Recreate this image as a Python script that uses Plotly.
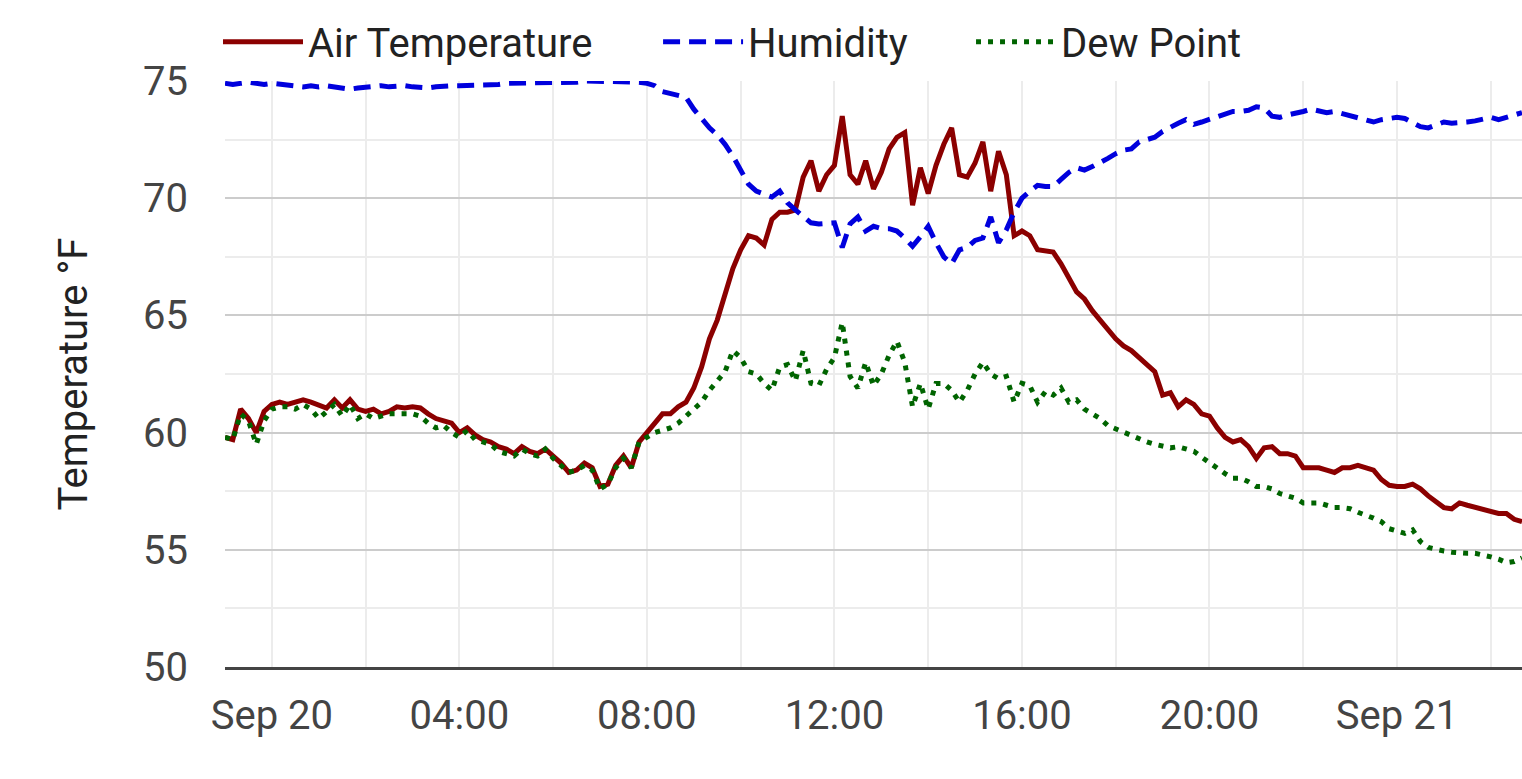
import pandas as pd
import plotly.graph_objects as go

# readings every 10 minutes, Sep 19 23:00 -> Sep 21 02:40 (one row per hour)
air_temp = [
    59.8, 59.7, 61.0, 60.6, 60.0, 60.9,
    61.2, 61.3, 61.2, 61.3, 61.4, 61.3,
    61.2, 61.05, 61.4, 61.05, 61.4, 61.0,
    60.9, 61.0, 60.8, 60.9, 61.1, 61.05,
    61.1, 61.05, 60.8, 60.6, 60.5, 60.4,
    60.0, 60.2, 59.9, 59.7, 59.6, 59.4,
    59.3, 59.1, 59.4, 59.2, 59.1, 59.3,
    59.0, 58.7, 58.3, 58.4, 58.7, 58.5,
    57.7, 57.8, 58.6, 59.0, 58.5, 59.6,
    60.0, 60.4, 60.8, 60.8, 61.1, 61.3,
    61.9, 62.8, 64.0, 64.8, 66.0, 67.0,
    67.8, 68.4, 68.3, 68.0, 69.1, 69.4,
    69.4, 69.5, 70.9, 71.6, 70.3, 71.0,
    71.4, 73.5, 71.0, 70.6, 71.6, 70.4,
    71.1, 72.1, 72.6, 72.8, 69.7, 71.3,
    70.2, 71.4, 72.3, 73.0, 71.0, 70.9,
    71.5, 72.4, 70.3, 72.0, 71.0, 68.4,
    68.6, 68.4, 67.8, 67.75, 67.7, 67.2,
    66.6, 66.0, 65.7, 65.2, 64.8, 64.4,
    64.0, 63.7, 63.5, 63.2, 62.9, 62.6,
    61.6, 61.7, 61.1, 61.4, 61.2, 60.8,
    60.7, 60.2, 59.8, 59.6, 59.7, 59.4,
    58.9, 59.35, 59.4, 59.1, 59.1, 59.0,
    58.5, 58.5, 58.5, 58.4, 58.3, 58.5,
    58.5, 58.6, 58.5, 58.4, 58.0, 57.75,
    57.7, 57.7, 57.8, 57.6, 57.3, 57.05,
    56.8, 56.75, 57.0, 56.9, 56.8, 56.7,
    56.6, 56.55, 56.55, 56.3, 56.2,
]

humidity = [
    74.9, 74.85, 74.9, 74.95, 74.9, 74.85,
    74.9, 74.85, 74.8, 74.75, 74.75, 74.8,
    74.75, 74.8, 74.75, 74.7, 74.65, 74.7,
    74.75, 74.8, 74.8, 74.75, 74.8, 74.8,
    74.75, 74.7, 74.7, 74.75, 74.8, 74.8,
    74.8, 74.8, 74.8, 74.85, 74.8, 74.85,
    74.9, 74.9, 74.95, 74.9, 74.95, 74.95,
    74.9, 74.9, 74.9, 74.95, 75.0, 75.0,
    75.0, 75.0, 75.0, 75.0, 75.0, 74.95,
    74.9, 74.8, 74.55, 74.45, 74.35, 74.3,
    73.8, 73.4, 73.0, 72.7, 72.3, 71.8,
    71.2, 70.6, 70.3, 70.2, 70.05, 70.3,
    69.8, 69.5, 69.2, 68.95, 68.9, 68.9,
    68.95, 67.9, 68.9, 69.2, 68.6, 68.8,
    68.7, 68.7, 68.6, 68.3, 67.95, 68.35,
    68.8, 68.1, 67.5, 67.2, 67.8, 67.9,
    68.2, 68.3, 69.2, 68.1, 68.65, 69.4,
    70.0, 70.3, 70.55, 70.5, 70.5, 70.8,
    71.1, 71.3, 71.2, 71.35, 71.5, 71.7,
    71.9, 72.05, 72.1, 72.4, 72.5, 72.6,
    72.85, 73.05, 73.2, 73.35, 73.15, 73.25,
    73.35, 73.5, 73.6, 73.7, 73.7, 73.75,
    73.9, 73.85, 73.5, 73.45, 73.55, 73.6,
    73.7, 73.8, 73.7, 73.65, 73.7, 73.6,
    73.55, 73.45, 73.3, 73.25, 73.35, 73.4,
    73.45, 73.4, 73.2, 73.05, 73.0, 73.15,
    73.25, 73.2, 73.2, 73.25, 73.3, 73.4,
    73.45, 73.35, 73.45, 73.5, 73.65,
]

dew_point = [
    59.8, 59.7, 60.8, 60.5, 59.5, 60.5,
    61.0, 61.1, 61.1, 61.0, 61.2, 61.0,
    60.6, 60.9, 61.2, 60.7, 61.2, 60.6,
    60.8, 60.6, 60.7, 60.8, 60.8, 60.8,
    60.8, 60.7, 60.4, 60.2, 60.3, 60.0,
    59.8, 60.1, 59.7, 59.6, 59.5, 59.2,
    59.1, 59.0, 59.3, 59.1, 59.0, 59.3,
    58.9, 58.6, 58.3, 58.4, 58.6, 58.4,
    57.6, 57.8, 58.5, 58.9, 58.5, 59.6,
    59.8, 60.0, 60.1, 60.2, 60.4, 60.7,
    61.0, 61.3, 61.8, 62.2, 62.6, 63.5,
    63.2, 62.6, 62.5, 62.1, 61.8, 62.8,
    62.9, 62.2, 63.5, 62.1, 62.0, 62.7,
    63.2, 64.7, 62.4, 61.9, 63.0, 62.0,
    62.5, 63.3, 63.9, 63.0, 61.1, 62.1,
    61.0, 62.1, 62.1, 61.8, 61.3, 61.8,
    62.5, 63.0, 62.5, 62.3, 62.4, 61.3,
    62.1, 62.0, 61.3, 61.75, 61.6, 61.9,
    61.3, 61.4, 61.0, 60.8, 60.6, 60.3,
    60.15, 60.0, 59.9, 59.75, 59.6, 59.5,
    59.4, 59.35, 59.4, 59.3, 59.2, 58.95,
    58.7, 58.45, 58.25, 58.05, 58.05, 57.9,
    57.7, 57.7, 57.6, 57.4, 57.3, 57.2,
    57.0, 57.0, 57.0, 56.9, 56.8, 56.8,
    56.75, 56.6, 56.5, 56.35, 56.2, 55.9,
    55.8, 55.7, 55.85, 55.35, 55.1, 55.0,
    54.95, 54.9, 54.85, 54.85, 54.85, 54.8,
    54.7, 54.6, 54.45, 54.5, 54.65,
]

tick_vals = ["2020-09-20 00:00", "2020-09-20 04:00", "2020-09-20 08:00", "2020-09-20 12:00",
             "2020-09-20 16:00", "2020-09-20 20:00", "2020-09-21 00:00"]
tick_text = ["Sep 20", "04:00", "08:00", "12:00", "16:00", "20:00", "Sep 21"]

times = pd.date_range("2020-09-19 23:00", periods=len(air_temp), freq="10min")

fig = go.Figure()
fig.add_trace(go.Scatter(x=times, y=air_temp, name="Air Temperature", mode="lines",
                         line=dict(color="#8b0000", width=5), legend="legend"))
fig.add_trace(go.Scatter(x=times, y=humidity, name="Humidity", mode="lines",
                         line=dict(color="#0000dd", width=5, dash="17px,9px"), legend="legend2"))
fig.add_trace(go.Scatter(x=times, y=dew_point, name="Dew Point", mode="lines",
                         line=dict(color="#006400", width=5, dash="5px,7px"), legend="legend3"))

light = "#ececec"

# one legend box per series so the entries sit where the original has them
def legend_at(x):
    return dict(orientation="h", x=x, xanchor="left", y=1.067, yanchor="middle",
                itemwidth=80, font=dict(size=40, color="#222"), bgcolor="rgba(0,0,0,0)")

fig.update_layout(
    width=1522, height=779,
    margin=dict(l=225, r=0, t=81, b=112),
    paper_bgcolor="white", plot_bgcolor="white",
    font=dict(family="Roboto", size=40, color="#444"),
    showlegend=True,
    legend=legend_at(-0.0054),
    legend2=legend_at(0.3339),
    legend3=legend_at(0.5752),
    xaxis=dict(
        type="date", range=[times[0], times[-1]],
        tickmode="array", tickvals=tick_vals, ticktext=tick_text,
        showgrid=True, gridcolor=light, gridwidth=2,
        minor=dict(dtick=2 * 3600 * 1000, tick0="2020-09-20", showgrid=True,
                   gridcolor=light, gridwidth=2),
        showline=True, linecolor="#444", linewidth=3,
        ticks="", ticklabelstandoff=11, zeroline=False,
    ),
    yaxis=dict(
        range=[50, 75], dtick=5, tick0=50,
        showgrid=True, gridcolor="#cccccc", gridwidth=2,
        minor=dict(dtick=2.5, tick0=50, showgrid=True, gridcolor=light, gridwidth=2),
        zeroline=False, showline=False, ticks="", ticklabelstandoff=36,
        title=dict(text="Temperature °F", font=dict(size=40, color="#222"), standoff=43),
    ),
)

# drop the browser's default body margin so the figure fills the window
fig.write_html("out.html", config={"displayModeBar": False},
               post_script="document.body.style.margin='0';document.body.style.overflow='hidden';")
